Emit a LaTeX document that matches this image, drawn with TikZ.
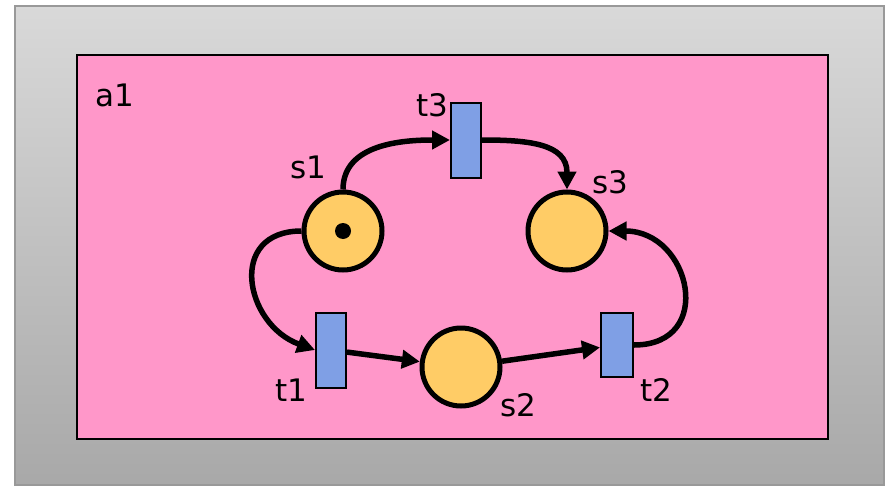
\documentclass[tikz,border=0pt]{standalone}
\usepackage{fontspec}
\setmainfont{DejaVu Sans}
\usetikzlibrary{arrows.meta}
\definecolor{framegray}{HTML}{999999}
\definecolor{netpink}{HTML}{FF97C9}
\definecolor{placeyellow}{HTML}{FFCC66}
\definecolor{transblue}{HTML}{7F9FE5}
\begin{document}
\begin{tikzpicture}[x=1pt,y=-1pt,every node/.style={font=\fontsize{31}{36}\selectfont},
  place/.style={circle,draw,line width=5pt,fill=placeyellow,minimum size=78pt,inner sep=0pt},
  trans/.style={draw,line width=2pt,fill=transblue,minimum width=30pt,minimum height=75pt,inner sep=0pt},
  token/.style={circle,fill=black,minimum size=16pt,inner sep=0pt},
  arc/.style={line width=5.5pt,-{Triangle[length=18pt,width=18pt]}}]
  \useasboundingbox (0,0) rectangle (893,487);
  % grey frame and the net box
  \shade[top color=black!15,bottom color=black!34,draw=framegray,line width=2pt] (15,6) rectangle (884,485);
  \node[draw,line width=2pt,fill=netpink,minimum width=751pt,minimum height=384pt,inner sep=0pt,anchor=north west] (net) at (76,54) {};
  \node (a1) at (115,95) {a1};
  % places and transitions
  \node[place] (s1) at (343,231) {};
  \node[place] (s2) at (461,367) {};
  \node[place] (s3) at (567,231) {};
  \node[token] (m1) at (s1) {};
  \node[trans] (t1) at (331,350) {};
  \node[trans,minimum width=32pt,minimum height=64pt] (t2) at (617,345) {};
  \node[trans] (t3) at (466,140) {};
  \node (s1l) at (308,167) {s1};
  \node (s2l) at (518,405) {s2};
  \node (s3l) at (610,182) {s3};
  \node (t1l) at (291,390) {t1};
  \node (t2l) at (656,390) {t2};
  \node (t3l) at (432,105) {t3};
  % arcs
  \draw[arc] (s1.north) to[out=90,in=180] (t3.west);
  \draw[arc] (t3.east) to[out=0,in=90,looseness=1.2] (s3.north);
  \draw[arc] (s1.west) to[out=180,in=160,looseness=1.6] (t1.west);
  \draw[arc] (t1) -- (s2);
  \draw[arc] (s2) -- (t2);
  \draw[arc] (t2.east) to[out=0,in=0,looseness=1.8] (s3.east);
\end{tikzpicture}
\end{document}
